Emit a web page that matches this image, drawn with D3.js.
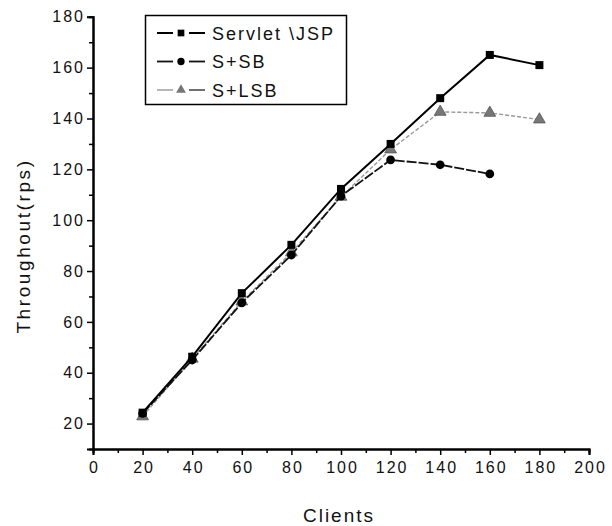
<!DOCTYPE html>
<html><head><meta charset="utf-8">
<script src="https://cdn.jsdelivr.net/npm/d3@7"></script>
<style>body{margin:0;background:#fff}svg{display:block}text{font-family:"Liberation Sans",Arial,sans-serif}</style>
</head><body>
<script>
const clients = [20, 40, 60, 80, 100, 120, 140, 160, 180];
const servletJSP = [24.3, 46.3, 71.3, 90.3, 112.3, 130, 148, 165, 161];
const sSB = [24, 45, 67.5, 86.3, 109.5, 123.7, 121.8, 118.2, null];
const sLSB = [22.8, 45.5, 68, 87.3, 109.2, 127.8, 142.6, 142.2, 139.6];
const seriesNames = ["Servlet \\JSP", "S+SB", "S+LSB"];
const xTicks = [0, 20, 40, 60, 80, 100, 120, 140, 160, 180, 200];
const yTicks = [20, 40, 60, 80, 100, 120, 140, 160, 180];

const W = 612, H = 526;
const svg = d3.select("body").append("svg").attr("width", W).attr("height", H);
const x = d3.scaleLinear().domain([0, 200]).range([93, 589]);
const y = d3.scaleLinear().domain([10, 180]).range([449, 16.8]);

const xAxis = d3.axisBottom(x).tickValues(xTicks).tickSize(6).tickPadding(7).tickFormat(d3.format("d"));
const xMinor = d3.axisBottom(x).tickValues(d3.range(10, 200, 20)).tickSize(4).tickFormat("");
const yAxis = d3.axisLeft(y).tickValues(yTicks).tickSize(6).tickPadding(4).tickFormat(d3.format("d"));
const yMinor = d3.axisLeft(y).tickValues(d3.range(30, 180, 20)).tickSize(4).tickFormat("");

function styleAxis(g){
  g.select(".domain").attr("stroke","#000").attr("stroke-width",2);
  g.selectAll(".tick line").attr("stroke","#000").attr("stroke-width",1.5);
  g.selectAll("text").attr("font-size",16).attr("letter-spacing",2).attr("fill","#111")
    .attr("font-family","\"Liberation Sans\",Arial,sans-serif");
}
svg.append("g").attr("transform","translate(0,449)").call(xMinor).call(styleAxis);
svg.append("g").attr("transform","translate(0,449)").call(xAxis).call(styleAxis)
  .selectAll(".tick text").attr("dx", 1);
svg.append("g").attr("transform","translate(93,0)").call(yMinor).call(styleAxis);
svg.append("g").attr("transform","translate(93,0)").call(yAxis).call(styleAxis)
  .selectAll(".tick text").attr("dx", 2);

svg.append("text").attr("x", 339).attr("y", 522).attr("text-anchor","middle")
  .attr("font-size",19).attr("letter-spacing",2).attr("fill","#111").text("Clients");
svg.append("text").attr("transform","translate(30,246) rotate(-90)").attr("text-anchor","middle")
  .attr("font-size",19).attr("letter-spacing",2.6).attr("fill","#111").text("Throughout(rps)");

const series = [
  {name: seriesNames[0], vals: servletJSP, color:"#000", width:2, dash:null, marker:"square", mfill:"#000"},
  {name: seriesNames[1], vals: sSB, color:"#111", width:1.8, dash:"10,2", marker:"circle", mfill:"#000"},
  {name: seriesNames[2], vals: sLSB, color:"#999", width:1.4, dash:"4,2", marker:"triangle", mfill:"#777"}
];
const symbolType = {square: d3.symbolSquare, circle: d3.symbolCircle, triangle: d3.symbolTriangle};
const symbolSize = {square: 64, circle: 60, triangle: 60};

const line = d3.line().defined(d => d[1] != null).x(d => x(d[0])).y(d => y(d[1]));
series.slice().reverse().forEach(s => {
  const pts = clients.map((c,i) => [c, s.vals[i]]);
  svg.append("path").datum(pts).attr("d", line).attr("fill","none")
    .attr("stroke", s.color).attr("stroke-width", s.width).attr("stroke-dasharray", s.dash);
  svg.append("g").selectAll("path").data(pts.filter(d => d[1] != null)).join("path")
    .attr("transform", d => `translate(${x(d[0])},${y(d[1])})`)
    .attr("d", d3.symbol().type(symbolType[s.marker]).size(symbolSize[s.marker]))
    .attr("fill", s.mfill).attr("stroke", s.marker === "triangle" ? "#555" : "none").attr("stroke-width",0.8);
});

// legend
const lg = svg.append("g");
lg.append("rect").attr("x",145.5).attr("y",15.5).attr("width",201).attr("height",89)
  .attr("fill","#fff").attr("stroke","#000").attr("stroke-width",1.5);
series.forEach((s,i) => {
  const cy = 33 + i*28.5;
  lg.append("line").attr("x1",157).attr("x2",173).attr("y1",cy).attr("y2",cy)
    .attr("stroke",s.color).attr("stroke-width",s.width);
  lg.append("line").attr("x1",189).attr("x2",205).attr("y1",cy).attr("y2",cy)
    .attr("stroke",s.color === "#999" ? "#333" : s.color).attr("stroke-width",s.width);
  lg.append("path").attr("transform",`translate(181,${cy})`)
    .attr("d", d3.symbol().type(symbolType[s.marker]).size(symbolSize[s.marker]*0.7))
    .attr("fill", s.mfill);
  lg.append("text").attr("x",212).attr("y",cy+6.5).attr("font-size",18).attr("letter-spacing",2)
    .attr("fill","#111").text(s.name);
});
</script>
</body></html>
